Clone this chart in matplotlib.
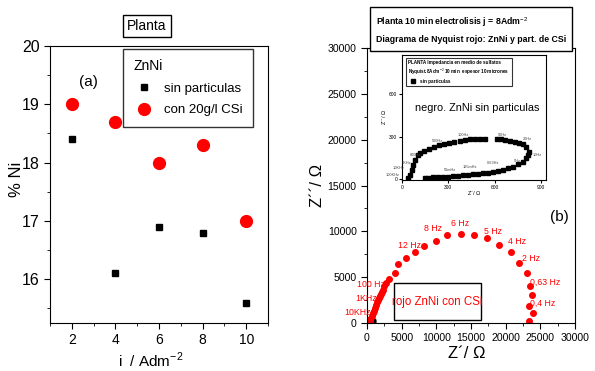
import matplotlib
matplotlib.use("Agg")
import matplotlib.pyplot as plt
from matplotlib.patches import Rectangle
from matplotlib.ticker import MultipleLocator

plt.rcParams["font.family"] = ["Liberation Sans", "DejaVu Sans"]
plt.rcParams["mathtext.fontset"] = "custom"
plt.rcParams["mathtext.rm"] = "Liberation Sans"
plt.rcParams["mathtext.bf"] = "Liberation Sans:bold"

# (a) % Ni vs current density
current = [2, 4, 6, 8, 10]
ni_sin = [18.4, 16.1, 16.9, 16.8, 15.6]
ni_csi = [19.0, 18.7, 18.0, 18.3, 17.0]

# (b) Nyquist, ZnNi + CSi (red), ohm
zre_csi = [300, 400, 500, 650, 800, 950, 1100, 1250, 1400, 1550, 1700, 1850,
           2000, 2150, 2300, 2500, 2750, 3200, 4100, 4400, 5650, 6900, 8250,
           9900, 11550, 13500, 15400, 17300, 19100, 20700, 21950, 23100,
           23500, 23850, 23300, 24000, 23400]
zim_csi = [0, 200, 450, 750, 1050, 1350, 1650, 1950, 2250, 2500, 2750, 2950,
           3150, 3400, 3650, 4000, 4400, 4850, 5450, 6400, 7050, 7800, 8450,
           9000, 9550, 9700, 9600, 9250, 8550, 7750, 6550, 5450,
           4050, 3100, 1900, 1100, 200]
freq_csi = ["8 Hz", "6 Hz", "5 Hz", "4 Hz", "2 Hz", "0,63 Hz", "0,4 Hz",
            "12 Hz", "100 Hz", "1KHz", "10KHz"]
freq_csi_x = [9500, 13400, 18200, 21600, 23700, 25700, 25400, 6200, 500, -200, -1300]
freq_csi_y = [10300, 10900, 10000, 8900, 7000, 4400, 2100, 8450, 4200, 2650, 1100]

# inset: ZnNi sin particulas (black), ohm
zre_sin = [41, 52, 63, 73, 84, 102, 117, 145, 177, 210, 242, 274, 307, 339,
           376, 408, 441, 473, 505, 538, 615, 640, 668, 700, 730, 757, 782,
           805, 825, 818, 803, 782, 754, 721, 689, 657, 624, 592, 560, 527,
           495, 462, 430, 398, 365, 333, 300, 268, 235, 203, 170, 149]
zim_sin = [5, 28, 64, 99, 135, 170, 182, 198, 213, 229, 239, 248, 257, 265,
           272, 276, 281, 281, 281, 284, 281, 281, 276, 270, 262, 253, 246,
           225, 194, 170, 146, 123, 104, 87, 76, 64, 57, 50, 45, 40,
           38, 35, 30, 27, 24, 20, 17, 15, 13, 11, 9, 6]
freq_sin = ["100KHz", "10KHz", "5KHz", "800Hz", "500Hz", "100Hz", "50Hz",
            "20Hz", "10Hz", "5Hz", "0.63Hz", "125mHz", "50mHz"]
freq_sin_x = [-58, -19, 32, 84, 227, 400, 648, 810, 875, 745, 590, 440, 311]
freq_sin_y = [28, 78, 113, 170, 270, 312, 312, 284, 170, 128, 113, 85, 64]

fig = plt.figure(figsize=(5.95, 3.71), dpi=100)

# ---------- panel (a)
ax1 = fig.add_axes([50/595, 48/371, 218/595, 277/371])
ax1.plot(current, ni_sin, 's', color='black', ms=5, label='sin particulas')
ax1.plot(current, ni_csi, 'o', color='red', ms=8.5, label='con 20g/l CSi')
ax1.set_xlim(1, 11)
ax1.set_ylim(15.25, 20)
ax1.xaxis.set_major_locator(MultipleLocator(2))
ax1.xaxis.set_minor_locator(MultipleLocator(1))
ax1.yaxis.set_major_locator(MultipleLocator(1))
ax1.yaxis.set_minor_locator(MultipleLocator(0.5))
ax1.tick_params(which='both', direction='out', top=False, right=False)
ax1.tick_params(which='major', length=4)
ax1.tick_params(which='minor', length=2.5)
ax1.tick_params(axis='y', labelsize=11.5)
ax1.tick_params(axis='x', labelsize=10)
ax1.set_xlabel('i  / Adm$^{-2}$', fontsize=11)
ax1.xaxis.set_label_coords(0.46, -0.1)
ax1.set_ylabel('% Ni', fontsize=12)
ax1.yaxis.set_label_coords(-0.12, 0.52)
leg = ax1.legend(title='ZnNi', loc='upper left', bbox_to_anchor=(0.335, 0.99),
                 fontsize=9.5, title_fontsize=10, frameon=True, fancybox=False,
                 edgecolor='black', borderpad=0.8, handletextpad=0.7, handlelength=1.6,
                 alignment='left', labelspacing=0.7, borderaxespad=0)
leg.get_frame().set_linewidth(1)
ax1.text(0.175, 0.87, '(a)', transform=ax1.transAxes, fontsize=11, ha='center', va='center')
fig.text(147/595, 1 - 26/371, 'Planta', fontsize=10, ha='center', va='center',
         bbox=dict(boxstyle='square,pad=0.3', facecolor='white', edgecolor='black', lw=1))

# ---------- panel (b)
ax2 = fig.add_axes([367/595, 48/371, 208/595, 275/371])
ax2.plot(zre_sin, zim_sin, 's', color='black', ms=2.2)
ax2.plot(zre_csi, zim_csi, 'o', color='red', ms=4)
ax2.set_xlim(0, 30000)
ax2.set_ylim(0, 30000)
ax2.xaxis.set_major_locator(MultipleLocator(5000))
ax2.xaxis.set_minor_locator(MultipleLocator(2500))
ax2.yaxis.set_major_locator(MultipleLocator(5000))
ax2.yaxis.set_minor_locator(MultipleLocator(2500))
ax2.tick_params(which='both', direction='out', top=False, right=False, labelsize=7.6)
ax2.tick_params(which='major', length=4)
ax2.tick_params(which='minor', length=2.5)
ax2.set_xlabel('Z´/ Ω', fontsize=12)
ax2.xaxis.set_label_coords(0.48, -0.085)
ax2.set_ylabel('Z´´/ Ω', fontsize=12)
ax2.yaxis.set_label_coords(-0.2, 0.5)
for lab, x, y in zip(freq_csi, freq_csi_x, freq_csi_y):
    ax2.text(x, y, lab, color='red', fontsize=6.3, ha='center', va='center', clip_on=False)
ax2.text(0.923, 0.385, '(b)', transform=ax2.transAxes, fontsize=11, ha='center', va='center')
ax2.add_patch(Rectangle((0.13, 0.011), 0.418, 0.134, transform=ax2.transAxes,
                        facecolor='white', edgecolor='black', lw=1, zorder=4))
ax2.text(0.339, 0.078, 'rojo ZnNi con CSi', transform=ax2.transAxes, color='red',
         fontsize=8.3, ha='center', va='center', zorder=5)

fig.text(376/595, 1 - 30/371,
         'Planta 10 min electrolisis j = 8Adm$^{-2}$\nDiagrama de Nyquist rojo: ZnNi y part. de CSi',
         fontsize=6.3, fontweight='bold', ha='left', va='center', linespacing=1.9, zorder=10,
         bbox=dict(boxstyle='square,pad=0.7', facecolor='white', edgecolor='black', lw=1))

# ---------- inset
ax3 = fig.add_axes([402/595, 191/371, 144/595, 125/371])
ax3.plot(zre_sin, zim_sin, 's', color='black', ms=2.3, label='sin particulas')
ax3.set_xlim(0, 933)
ax3.set_ylim(-7, 880)
ax3.set_xticks([0, 300, 600, 900])
ax3.set_yticks([0, 300, 600])
ax3.tick_params(direction='out', length=2, labelsize=3.5, pad=1.5, top=False, right=False)
ax3.set_xlabel('Z´/ Ω', fontsize=4, labelpad=1)
ax3.set_ylabel('Z´´/ Ω', fontsize=4, labelpad=1)
for lab, x, y in zip(freq_sin, freq_sin_x, freq_sin_y):
    ax3.text(x, y, lab, color='#444444', fontsize=2.8, ha='center', va='center', clip_on=False)
ax3.text(0.52, 0.576, 'negro. ZnNi sin particulas', transform=ax3.transAxes,
         fontsize=7.8, ha='center', va='center')
leg3 = ax3.legend(title='PLANTA Impedancia en medio de sulfatos\nNyquist.8Adm$^{-2}$ 10 min  espesor 10 micrones',
                  loc='upper left', bbox_to_anchor=(0.028, 0.98),
                  title_fontsize=3.3, frameon=True, fancybox=False, edgecolor='black',
                  alignment='left', borderpad=0.5, handletextpad=0.5, borderaxespad=0,
                  prop={'weight': 'bold', 'size': 3.3})
leg3.get_title().set_fontweight('bold')
leg3.get_frame().set_linewidth(0.8)

fig.savefig('out.png', dpi=100)
